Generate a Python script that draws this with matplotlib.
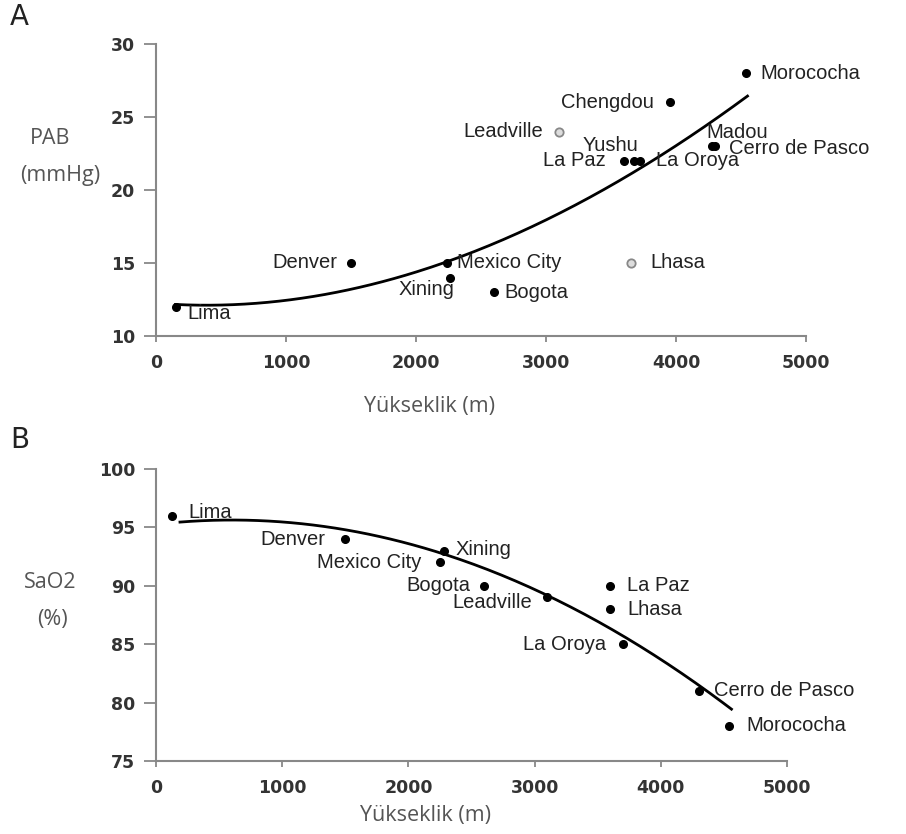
import numpy as np
import matplotlib.pyplot as plt

# Panel A: pulmonary arterial pressure vs altitude
cities_a = ['Lima', 'Denver', 'Mexico City', 'Xining', 'Bogota', 'Lhasa', 'Leadville',
            'Chengdou', 'La Paz', 'Yushu', 'La Oroya', 'Madou', 'Cerro de Pasco', 'Morococha']
alt_a = [150, 1500, 2240, 2260, 2600, 3650, 3100, 3950, 3600, 3680, 3720, 4280, 4300, 4540]
pab = [12, 15, 15, 14, 13, 15, 24, 26, 22, 22, 22, 23, 23, 28]
open_a = ['Lhasa', 'Leadville']

# trend line (A)
trend_a_x = [150, 1000, 2000, 3000, 4000, 4550]
trend_a_y = [12.1, 12.6, 14.3, 17.8, 23.3, 26.3]

# Panel B: arterial oxygen saturation vs altitude
cities_b = ['Lima', 'Denver', 'Mexico City', 'Xining', 'Bogota', 'Leadville', 'La Paz',
            'Lhasa', 'La Oroya', 'Cerro de Pasco', 'Morococha']
alt_b = [130, 1500, 2250, 2280, 2600, 3100, 3600, 3600, 3700, 4300, 4540]
sao2 = [96, 94, 92, 93, 90, 89, 90, 88, 85, 81, 78]

# trend line (B)
trend_b_x = [190, 800, 2000, 2280, 3100, 3700, 4300, 4560]
trend_b_y = [95.4, 95.6, 93.6, 93.0, 89.0, 85.6, 81.3, 79.7]

# label offsets in pixels (dx, dy, ha)
lab_a = {'Lima': (12, -7, 'left'), 'Denver': (-14, 0, 'right'), 'Mexico City': (10, 0, 'left'),
         'Xining': (-23, -12, 'center'), 'Bogota': (10, 0, 'left'), 'Lhasa': (20, 0, 'left'),
         'Leadville': (-16, 0, 'right'), 'Chengdou': (-16, 0, 'right'), 'La Paz': (-18, 0, 'right'),
         'Yushu': (-24, 15, 'center'), 'La Oroya': (16, 0, 'left'), 'Madou': (-6, 14, 'left'),
         'Cerro de Pasco': (14, -2, 'left'), 'Morococha': (14, 0, 'left')}
lab_b = {'Lima': (16, 3, 'left'), 'Denver': (-20, 0, 'right'), 'Mexico City': (-19, 0, 'right'),
         'Xining': (12, 1, 'left'), 'Bogota': (-14, 0, 'right'), 'Leadville': (-15, -5, 'right'),
         'La Paz': (17, 0, 'left'), 'Lhasa': (17, 0, 'left'), 'La Oroya': (-17, 0, 'right'),
         'Cerro de Pasco': (15, 0, 'left'), 'Morococha': (17, 0, 'left')}

fig = plt.figure(figsize=(9.06, 8.34), dpi=100)
axA = fig.add_axes([156/906, 1-336/834, 650/906, 292/834])
axB = fig.add_axes([156/906, 1-761/834, 631/906, 292/834])

lab_font = dict(family='Liberation Sans', fontsize=14.5, color='#222222')
ax_font = dict(family='Open Sans', fontsize=15.5, color='#555555')


def style(ax, ylim, yticks):
    ax.set_xlim(0, 5000)
    ax.set_ylim(*ylim)
    ax.set_xticks([0, 1000, 2000, 3000, 4000, 5000])
    ax.set_yticks(yticks)
    for s in ['top', 'right']:
        ax.spines[s].set_visible(False)
    for s in ['left', 'bottom']:
        ax.spines[s].set_color('#888888')
        ax.spines[s].set_linewidth(1.5)
    ax.tick_params(axis='y', length=9, width=1.3, color='#888888', pad=6)
    ax.tick_params(axis='x', length=4, width=1.3, color='#888888', pad=9)
    for t in ax.get_xticklabels() + ax.get_yticklabels():
        t.set_fontweight('bold')
        t.set_fontsize(12.5)
        t.set_color('#333333')


def px(dx, dy):
    # offset in pixels -> points
    return dx * 72 / 100, dy * 72 / 100


# --- A ---
style(axA, (10, 30), [10, 15, 20, 25, 30])
for c, x, y in zip(cities_a, alt_a, pab):
    if c in open_a:
        axA.plot(x, y, 'o', ms=6, mfc='#dddddd', mec='#888888', mew=1.3, clip_on=False)
    else:
        axA.plot(x, y, 'o', ms=5.5, color='black', clip_on=False)
    dx, dy, ha = lab_a[c]
    axA.annotate(c, (x, y), xytext=px(dx, dy), textcoords='offset points',
                 ha=ha, va='center', **lab_font)
ca = np.polyfit(trend_a_x, trend_a_y, 3)
xa = np.linspace(trend_a_x[0], trend_a_x[-1], 200)
axA.plot(xa, np.polyval(ca, xa), color='black', lw=2)

fig.text(50/906, 1-138/834, 'PAB', ha='center', va='center', **ax_font)
fig.text(60/906, 1-176/834, '(mmHg)', ha='center', va='center', **ax_font)
fig.text(430/906, 1-406/834, 'Yükseklik (m)', ha='center', va='center', **ax_font)
fig.text(10/906, 1-17/834, 'A', ha='left', va='center', fontsize=20, color='#222222')

# --- B ---
style(axB, (75, 100), [75, 80, 85, 90, 95, 100])
for c, x, y in zip(cities_b, alt_b, sao2):
    axB.plot(x, y, 'o', ms=5.5, color='black', clip_on=False)
    dx, dy, ha = lab_b[c]
    axB.annotate(c, (x, y), xytext=px(dx, dy), textcoords='offset points',
                 ha=ha, va='center', **lab_font)
cb = np.polyfit(trend_b_x, trend_b_y, 2)
xb = np.linspace(trend_b_x[0], trend_b_x[-1], 200)
axB.plot(xb, np.polyval(cb, xb), color='black', lw=2)

fig.text(50/906, 1-583/834, 'SaO2', ha='center', va='center', **ax_font)
fig.text(52/906, 1-620/834, '(%)', ha='center', va='center', **ax_font)
fig.text(425/906, 1-815/834, 'Yükseklik (m)', ha='center', va='center', **ax_font)
fig.text(10/906, 1-440/834, 'B', ha='left', va='center', fontsize=20, color='#222222')

fig.savefig('out.png', dpi=100)
